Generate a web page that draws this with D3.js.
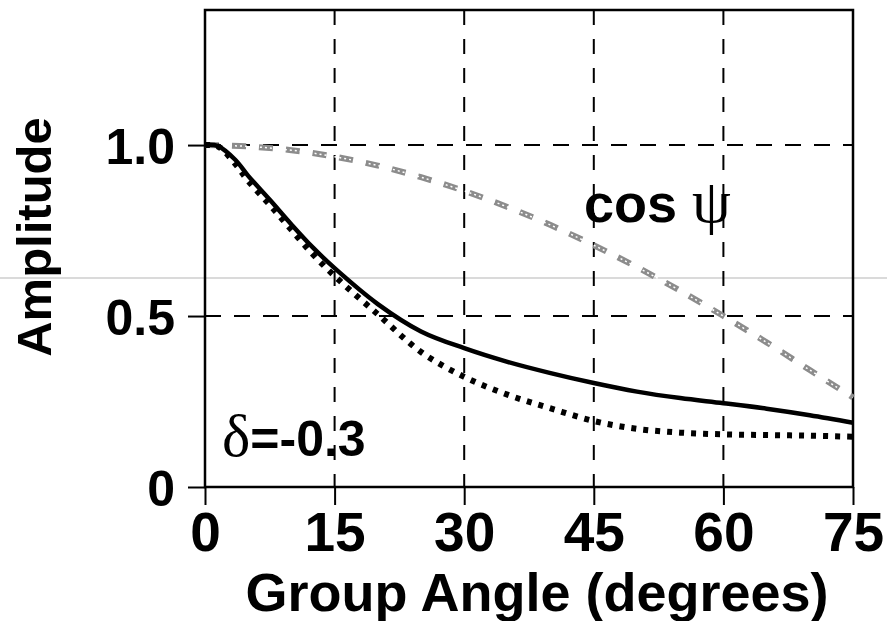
<!DOCTYPE html>
<html>
<head>
<meta charset="utf-8">
<script src="https://cdn.jsdelivr.net/npm/d3@7"></script>
<style>
  body { margin: 0; background: #fff; }
  text { font-family: "Liberation Sans", Arial, sans-serif; font-weight: bold; fill: #000; }
</style>
</head>
<body>
<div id="chart"></div>
<script>
// values (amplitude vs group angle, delta = -0.3)
var angles = [0, 1.5, 3.5, 5, 7.5, 10, 12.5, 15, 20, 25, 30, 35, 40, 45, 50, 55, 60, 65, 70, 75];
var solidAmp = [1.0, 0.997, 0.957, 0.91, 0.84, 0.768, 0.7, 0.64, 0.535, 0.455, 0.406, 0.366, 0.333, 0.304, 0.279, 0.26, 0.245, 0.229, 0.21, 0.188];
var dottedAmp = [1.0, 0.996, 0.945, 0.895, 0.825, 0.752, 0.68, 0.617, 0.505, 0.395, 0.322, 0.27, 0.23, 0.193, 0.17, 0.159, 0.154, 0.152, 0.15, 0.147];
var cosAngles = [0, 5, 10, 15, 20, 25, 30, 35, 40, 45, 50, 55, 60, 65, 70, 75];
var cosAmp = [1.0, 0.996, 0.985, 0.966, 0.94, 0.906, 0.866, 0.819, 0.766, 0.707, 0.643, 0.574, 0.5, 0.423, 0.342, 0.262];
var xTicks = [0, 15, 30, 45, 60, 75];
var yTicks = [0, 0.5, 1.0];
var yTickLabels = ["0", "0.5", "1.0"];

var W = 887, H = 621;
var m = {left: 205, right: 34, top: 10, bottom: 134};

var svg = d3.select("#chart").append("svg").attr("width", W).attr("height", H);

var x = d3.scaleLinear().domain([0, 75]).range([m.left, W - m.right]);
var y = d3.scaleLinear().domain([0, 1.395]).range([H - m.bottom, m.top]);

// faint scan line across the page
svg.append("line")
  .attr("x1", 0).attr("x2", W).attr("y1", 278).attr("y2", 278)
  .attr("stroke", "#b5b5b5").attr("stroke-width", 1);

// dashed grid
svg.selectAll(".vgrid")
  .data(xTicks.slice(1, -1))
  .enter().append("line")
  .attr("x1", d => x(d)).attr("x2", d => x(d))
  .attr("y1", y.range()[1]).attr("y2", y.range()[0])
  .attr("stroke", "#000").attr("stroke-width", 2)
  .attr("stroke-dasharray", "15,14");

svg.selectAll(".hgrid")
  .data(yTicks.slice(1))
  .enter().append("line")
  .attr("x1", x.range()[0]).attr("x2", x.range()[1])
  .attr("y1", d => y(d)).attr("y2", d => y(d))
  .attr("stroke", "#000").attr("stroke-width", 2)
  .attr("stroke-dasharray", "16,13");

// axes
var yAxis = svg.append("g")
  .attr("transform", "translate(" + m.left + ",0)")
  .call(d3.axisLeft(y).tickValues(yTicks).tickSize(17).tickPadding(13)
    .tickFormat((d, i) => yTickLabels[i]));
yAxis.select(".domain").remove();
yAxis.selectAll("line").attr("stroke", "#000").attr("stroke-width", 2);
yAxis.selectAll("text")
  .attr("font-size", 50).attr("font-family", "Liberation Sans, Arial, sans-serif")
  .attr("font-weight", "bold").attr("dy", "0.36em");

var xAxis = svg.append("g")
  .attr("transform", "translate(0," + (H - m.bottom) + ")")
  .call(d3.axisBottom(x).tickValues(xTicks).tickSize(18));
xAxis.select(".domain").remove();
xAxis.selectAll("line").attr("stroke", "#000").attr("stroke-width", 2);
xAxis.selectAll("text")
  .attr("font-size", 55).attr("font-family", "Liberation Sans, Arial, sans-serif")
  .attr("font-weight", "bold").attr("y", 64).attr("dy", null);

// frame
svg.append("rect")
  .attr("x", x.range()[0]).attr("y", y.range()[1])
  .attr("width", x.range()[1] - x.range()[0])
  .attr("height", y.range()[0] - y.range()[1])
  .attr("fill", "none").attr("stroke", "#000").attr("stroke-width", 2.5);

// curves
var line = d3.line().curve(d3.curveCatmullRom.alpha(0.5));

svg.append("path")
  .attr("d", line(cosAngles.map((a, i) => [x(a), y(cosAmp[i])])))
  .attr("fill", "none").attr("stroke", "#8c8c8c").attr("stroke-width", 6)
  .attr("stroke-dasharray", "14,13");
// hatch texture on the grey dashes
svg.append("path")
  .attr("d", line(cosAngles.map((a, i) => [x(a), y(cosAmp[i])])))
  .attr("fill", "none").attr("stroke", "#fff").attr("stroke-width", 1.5)
  .attr("stroke-dasharray", "2,3");

svg.append("path")
  .attr("d", line(angles.map((a, i) => [x(a), y(dottedAmp[i])])))
  .attr("fill", "none").attr("stroke", "#000").attr("stroke-width", 6)
  .attr("stroke-dasharray", "5,7");

svg.append("path")
  .attr("d", line(angles.map((a, i) => [x(a), y(solidAmp[i])])))
  .attr("fill", "none").attr("stroke", "#000").attr("stroke-width", 4.5);

// annotations
var cosLbl = svg.append("text").attr("x", 584).attr("y", 222).attr("font-size", 54);
cosLbl.append("tspan").text("cos ");
cosLbl.append("tspan").attr("font-family", "Liberation Serif, serif").attr("font-weight", "normal")
  .attr("font-size", 62).text("ψ");

var dLbl = svg.append("text").attr("x", 222).attr("y", 456).attr("font-size", 50);
dLbl.append("tspan").attr("font-family", "Liberation Serif, serif").attr("font-weight", "normal")
  .attr("font-size", 60).text("δ");
dLbl.append("tspan").text("=-0.3");

// axis titles
svg.append("text")
  .attr("x", 537).attr("y", 611).attr("text-anchor", "middle")
  .attr("font-size", 54).text("Group Angle (degrees)");

svg.append("text")
  .attr("transform", "translate(51,237) rotate(-90)")
  .attr("text-anchor", "middle").attr("font-size", 49).text("Amplitude");
</script>
</body>
</html>
